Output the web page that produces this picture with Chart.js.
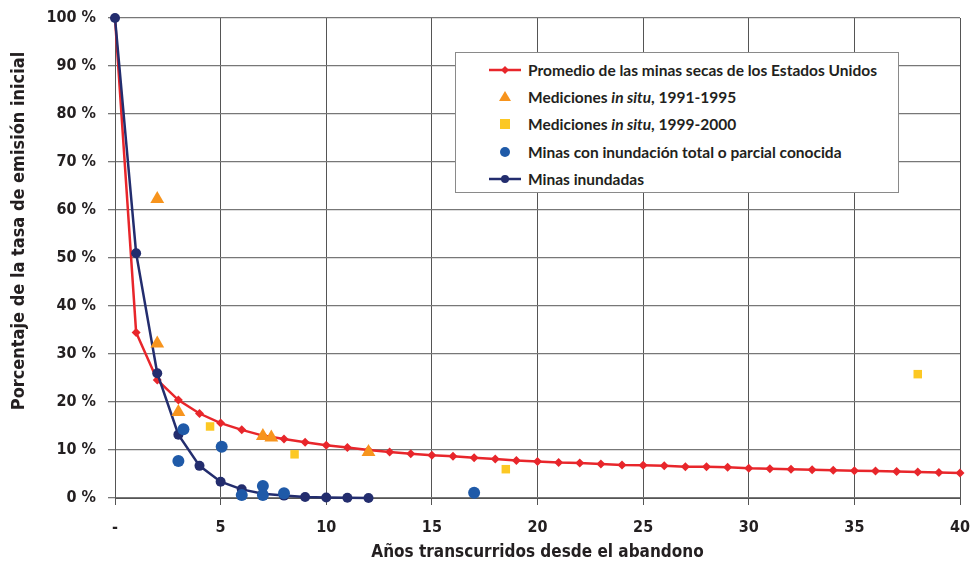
<!DOCTYPE html>
<html>
<head>
<meta charset="utf-8">
<script src="https://cdn.jsdelivr.net/npm/chart.js@4"></script>
<style>
  html, body { margin:0; padding:0; background:#fff; }
  #wrap { position:relative; width:974px; height:563px; }
  #legend { position:absolute; left:455px; top:52px; width:444px; height:141px; background:#fff; border:1px solid #8a8a8a; box-sizing:border-box;
    font-family:Lato, "Open Sans", sans-serif; font-weight:bold; font-size:15.5px; color:#231f20; }
  .row { position:absolute; left:0; height:20px; line-height:20px; white-space:nowrap; }
  .row svg { position:absolute; left:32px; top:0; }
  .row span { position:absolute; left:72px; top:0; }
</style>
</head>
<body>
<div id="wrap">
  <canvas id="chart" width="974" height="563"></canvas>
  <div id="legend">
    <div class="row" style="top:7px"><svg width="36" height="20"><line x1="1" y1="10" x2="33" y2="10" stroke="#e8262b" stroke-width="2.5"/><polygon points="17,6 21,10 17,14 13,10" fill="#e8262b"/></svg><span>Promedio de las minas secas de los Estados Unidos</span></div>
    <div class="row" style="top:34px"><svg width="36" height="20"><polygon points="17,4 23,14 11,14" fill="#f7941d"/></svg><span>Mediciones <i>in situ</i>, 1991-1995</span></div>
    <div class="row" style="top:61px"><svg width="36" height="20"><rect x="12" y="5" width="10" height="10" fill="#fcc823"/></svg><span>Mediciones <i>in situ</i>, 1999-2000</span></div>
    <div class="row" style="top:89px"><svg width="36" height="20"><circle cx="17" cy="10" r="5" fill="#1f5aa8"/></svg><span>Minas con inundación total o parcial conocida</span></div>
    <div class="row" style="top:116px"><svg width="36" height="20"><line x1="1" y1="10" x2="33" y2="10" stroke="#232d6e" stroke-width="2.5"/><circle cx="17" cy="10" r="4" fill="#232d6e"/></svg><span>Minas inundadas</span></div>
  </div>
</div>
<script>
// años desde el abandono (curva promedio)
const years = [0,1,2,3,4,5,6,7,8,9,10,11,12,13,14,15,16,17,18,19,20,21,22,23,24,25,26,27,28,29,30,31,32,33,34,35,36,37,38,39,40];
const dryMinesAvg = [100,34.5,24.6,20.4,17.6,15.6,14.2,13.0,12.3,11.6,11.0,10.5,10.0,9.6,9.2,8.9,8.7,8.4,8.1,7.8,7.6,7.4,7.3,7.1,6.9,6.8,6.7,6.5,6.5,6.4,6.2,6.1,6.0,5.9,5.8,5.7,5.6,5.5,5.4,5.3,5.2];

const floodedYears = [0,1,2,3,4,5,6,7,8,9,10,11,12];
const floodedMines = [100,51,26,13.2,6.7,3.4,1.8,0.9,0.5,0.2,0.1,0.05,0];

const insitu9195X = [2,2,3,7,7.4,12];
const insitu9195Y = [62.3,32.2,17.9,12.9,12.6,9.6];

const insitu9900X = [4.5,8.5,18.5,38];
const insitu9900Y = [14.9,9.1,6.0,25.8];

const knownFloodX = [3,3.24,5.05,6,7,7,8,17];
const knownFloodY = [7.7,14.3,10.7,0.6,2.5,0.6,1.0,1.1];

const xTicks = [0,5,10,15,20,25,30,35,40];
const yTicks = [0,10,20,30,40,50,60,70,80,90,100];

const yTitle = 'Porcentaje de la tasa de emisión inicial';

function pts(xs, ys) { return xs.map((x, i) => ({ x: x, y: ys[i] })); }

const axisFamily = '"Liberation Sans Narrow", "DejaVu Sans Condensed", sans-serif';
const axisFont = { family: axisFamily, weight: 'bold' };

// titulo del eje Y, un poco desplazado hacia arriba como en el original
const yTitlePlugin = {
  id: 'yTitle',
  afterDraw(chart) {
    const ctx = chart.ctx;
    ctx.save();
    ctx.translate(19, 231);
    ctx.rotate(-Math.PI / 2);
    ctx.font = 'bold 18px ' + axisFamily;
    ctx.fillStyle = '#231f20';
    ctx.textAlign = 'center';
    ctx.textBaseline = 'middle';
    ctx.fillText(yTitle, 0, 0);
    ctx.restore();
  }
};

new Chart(document.getElementById('chart').getContext('2d'), {
  type: 'scatter',
  data: {
    datasets: [
      { label: 'Minas con inundación total o parcial conocida', data: pts(knownFloodX, knownFloodY), order: 1,
        pointStyle: 'circle', pointRadius: 6, backgroundColor: '#1f5aa8', borderWidth: 0, clip: false },
      { label: 'Mediciones in situ, 1999-2000', data: pts(insitu9900X, insitu9900Y), order: 2,
        pointStyle: 'rect', pointRadius: 6, backgroundColor: '#fcc823', borderWidth: 0, clip: false },
      { label: 'Mediciones in situ, 1991-1995', data: pts(insitu9195X, insitu9195Y), order: 3,
        pointStyle: 'triangle', pointRadius: 8, backgroundColor: '#f7941d', borderWidth: 0, clip: false },
      { label: 'Minas inundadas', data: pts(floodedYears, floodedMines), order: 4, showLine: true,
        borderColor: '#232d6e', borderWidth: 2.5, pointStyle: 'circle', pointRadius: 5, pointBackgroundColor: '#232d6e', pointBorderWidth: 0, clip: false },
      { label: 'Promedio de las minas secas de los Estados Unidos', data: pts(years, dryMinesAvg), order: 5, showLine: true,
        borderColor: '#e8262b', borderWidth: 2.5, pointStyle: 'rectRot', pointRadius: 4.5, pointBackgroundColor: '#e8262b', pointBorderWidth: 0, clip: false }
    ]
  },
  options: {
    responsive: false,
    animation: false,
    layout: { autoPadding: false, padding: { left: 0, right: 14, top: 18, bottom: 0 } },
    plugins: { legend: { display: false }, tooltip: { enabled: false } },
    scales: {
      x: {
        type: 'linear', min: 0, max: 40,
        afterBuildTicks: ax => { ax.ticks = xTicks.map(v => ({ value: v })); },
        afterFit: ax => { ax.height = 65; ax.paddingLeft = 0; ax.paddingRight = 0; },
        grid: { color: '#555', lineWidth: 1, tickLength: 7, drawTicks: true },
        border: { color: '#555', width: 1 },
        ticks: { padding: 13, color: '#231f20', font: Object.assign({ size: 16 }, axisFont), callback: v => v === 0 ? '-' : v },
        title: { display: true, text: 'Años transcurridos desde el abandono', color: '#231f20',
          font: Object.assign({ size: 17 }, axisFont), padding: { top: 0, bottom: 0 } }
      },
      y: {
        type: 'linear', min: 0, max: 100,
        afterBuildTicks: ax => { ax.ticks = yTicks.map(v => ({ value: v })); },
        afterFit: ax => { ax.width = 115; ax.paddingTop = 0; ax.paddingBottom = 0; },
        grid: { color: '#777', lineWidth: 1.3, tickLength: 7, drawTicks: true },
        border: { color: '#555', width: 1 },
        ticks: { padding: 12, color: '#231f20', font: Object.assign({ size: 16 }, axisFont), callback: v => v + ' %' },
        title: { display: false }
      }
    }
  },
  plugins: [yTitlePlugin]
});
</script>
</body>
</html>
